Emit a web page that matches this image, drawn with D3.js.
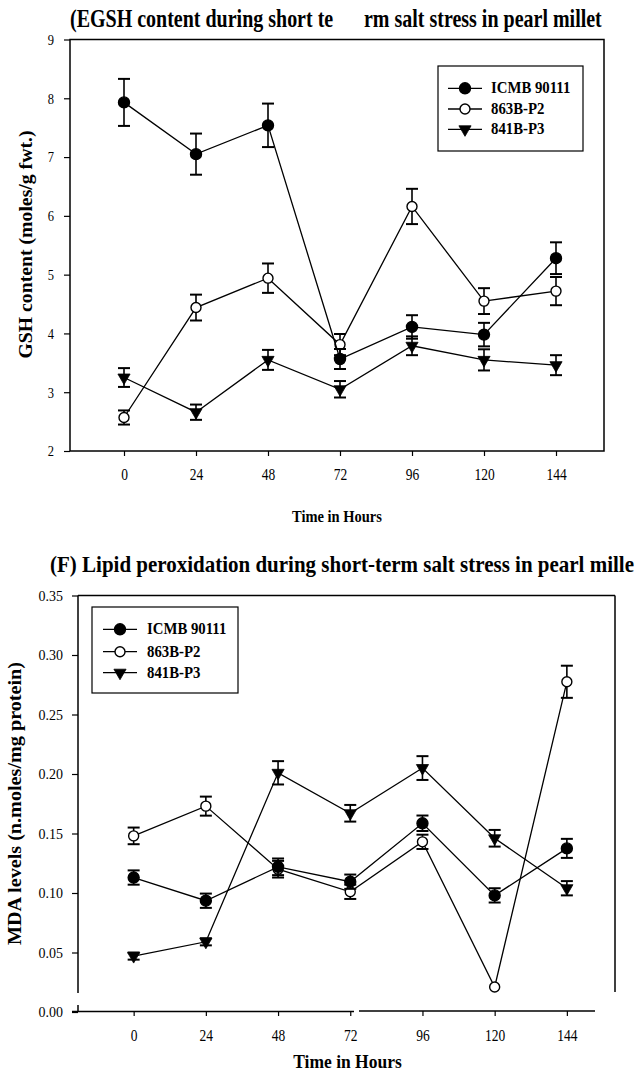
<!DOCTYPE html>
<html>
<head>
<meta charset="utf-8">
<script src="https://cdn.jsdelivr.net/npm/d3@7"></script>
<style>
  html, body { margin: 0; padding: 0; background: #fff; }
  svg { display: block; }
  text { font-family: "Liberation Serif", "Times New Roman", serif; fill: #000; white-space: pre; }
</style>
</head>
<body>
<script>
// ---- data ----
const hours = [0, 24, 48, 72, 96, 120, 144];
const seriesNames = ["ICMB 90111", "863B-P2", "841B-P3"];

// GSH content (moles/g fwt.)
const gshICMB    = [7.93, 7.05, 7.54, 3.565, 4.11, 3.98, 5.28];
const gshICMBErr = [0.40, 0.35, 0.37, 0.17, 0.20, 0.20, 0.27];
const gsh863     = [2.57, 4.44, 4.94, 3.81, 6.16, 4.55, 4.72];
const gsh863Err  = [0.12, 0.22, 0.25, 0.18, 0.30, 0.22, 0.24];
const gsh841     = [3.25, 2.66, 3.55, 3.05, 3.79, 3.55, 3.46];
const gsh841Err  = [0.16, 0.13, 0.17, 0.14, 0.16, 0.18, 0.17];

// MDA levels (n.moles/mg protein)
const mdaICMB    = [0.113, 0.0935, 0.122, 0.1095, 0.1586, 0.098, 0.1375];
const mdaICMBErr = [0.006, 0.006, 0.007, 0.006, 0.0065, 0.006, 0.008];
const mda863     = [0.148, 0.173, 0.120, 0.101, 0.143, 0.021, 0.2775];
const mda863Err  = [0.007, 0.008, 0.007, 0.006, 0.006, 0, 0.0135];
const mda841     = [0.047, 0.059, 0.201, 0.167, 0.205, 0.146, 0.104];
const mda841Err  = [0.003, 0.003, 0.0098, 0.007, 0.010, 0.007, 0.006];

const gshTicks = [2, 3, 4, 5, 6, 7, 8, 9];
const mdaTicks = [0, 0.05, 0.10, 0.15, 0.20, 0.25, 0.30, 0.35];
const hourTicks = [0, 24, 48, 72, 96, 120, 144];

const titleE = ["(EGSH content during short te", "rm salt stress in pearl millet"];
const titleF = "(F) Lipid peroxidation during short-term salt stress in pearl mille";
const xTitle = "Time in Hours";
const yTitleE = "GSH content (moles/g fwt.)";
const yTitleF = "MDA levels (n.moles/mg protein)";

// ---- drawing ----
const W = 636, H = 1080;
const svg = d3.select("body").append("svg").attr("width", W).attr("height", H);

const markerKinds = ["filled", "open", "tri"];

function stext(g, x, y, str, size, anchor, sy, bold) {
  return g.append("text")
    .attr("transform", `translate(${x},${y}) scale(1,${sy})`)
    .attr("text-anchor", anchor)
    .style("font-size", size + "px")
    .style("font-weight", bold ? "bold" : "normal")
    .text(str);
}

function drawMarker(g, kind, cx, cy) {
  if (kind === "tri") {
    g.append("path")
      .attr("d", d3.symbol().type(d3.symbolTriangle).size(64)())
      .attr("transform", `translate(${cx},${cy}) rotate(180)`)
      .attr("fill", "#000").attr("stroke", "#000").attr("stroke-width", 0.8);
  } else {
    g.append("circle").attr("cx", cx).attr("cy", cy)
      .attr("r", kind === "filled" ? 5.5 : 5)
      .attr("fill", kind === "filled" ? "#000" : "#fff")
      .attr("stroke", "#000").attr("stroke-width", 1.4);
  }
}

function drawSeries(g, x, y, vals, errs, kind) {
  const pts = hours.map((h, i) => ({ h, v: vals[i], e: errs[i] }));
  g.append("path")
    .datum(pts)
    .attr("d", d3.line().x(d => x(d.h)).y(d => y(d.v)))
    .attr("fill", "none").attr("stroke", "#000").attr("stroke-width", 1.3);
  pts.forEach(d => {
    if (d.e > 0) {
      const cx = x(d.h), y1 = y(d.v + d.e), y2 = y(d.v - d.e);
      g.append("line").attr("x1", cx).attr("x2", cx).attr("y1", y1).attr("y2", y2)
        .attr("stroke", "#000").attr("stroke-width", 1.6);
      [y1, y2].forEach(yy => g.append("line")
        .attr("x1", cx - 6).attr("x2", cx + 6).attr("y1", yy).attr("y2", yy)
        .attr("stroke", "#000").attr("stroke-width", 2));
    }
  });
  pts.forEach(d => drawMarker(g, kind, x(d.h), y(d.v)));
}

function drawLegend(g, bx, by, bw, bh, lx1, lx2, tx, rows) {
  g.append("rect").attr("x", bx).attr("y", by).attr("width", bw).attr("height", bh)
    .attr("fill", "#fff").attr("stroke", "#000").attr("stroke-width", 1.2);
  seriesNames.forEach((name, i) => {
    const yy = rows[i];
    g.append("line").attr("x1", lx1).attr("x2", lx2).attr("y1", yy).attr("y2", yy)
      .attr("stroke", "#000").attr("stroke-width", 1.3);
    drawMarker(g, markerKinds[i], (lx1 + lx2) / 2, yy);
    stext(g, tx, yy + 5, name, 14.8, "start", 1.13, true);
  });
}

// ===== Panel E: GSH content =====
{
  const g = svg.append("g");
  const x = d3.scaleLinear().domain([-18, 160]).range([70, 604]);
  const y = d3.scaleLinear().domain([2, 9]).range([451, 39.5]);

  stext(g, 70, 27, titleE[0], 20, "start", 1.26, true);
  stext(g, 364, 27, titleE[1], 20, "start", 1.26, true);

  // frame
  g.append("rect").attr("x", 70).attr("y", 39.5).attr("width", 534).attr("height", 411.5)
    .attr("fill", "none").attr("stroke", "#000").attr("stroke-width", 1.5);

  const ya = g.append("g").attr("transform", "translate(70,0)")
    .call(d3.axisLeft(y).tickValues(gshTicks).tickSize(6).tickSizeOuter(0).tickFormat(d3.format("d")));
  ya.select(".domain").remove();
  ya.selectAll(".tick line").attr("stroke", "#000").attr("stroke-width", 1.2);
  ya.selectAll(".tick text").attr("x", null).attr("dy", null).attr("font-family", null).attr("font-size", null)
    .attr("transform", "translate(-16,4.8) scale(1,1.25)").style("font-size", "12.5px");

  const xa = g.append("g").attr("transform", "translate(0,451)")
    .call(d3.axisBottom(x).tickValues(hourTicks).tickSize(5).tickSizeOuter(0));
  xa.select(".domain").remove();
  xa.selectAll(".tick line").attr("stroke", "#000").attr("stroke-width", 1.2);
  xa.selectAll(".tick text").attr("y", null).attr("dy", null).attr("font-family", null).attr("font-size", null)
    .attr("transform", "translate(0,29) scale(1,1.26)").style("font-size", "13.5px");

  stext(g, 337, 522, xTitle, 14.5, "middle", 1.2, true);
  g.append("text").attr("transform", "translate(32,244.5) rotate(-90)")
    .attr("text-anchor", "middle").style("font-size", "19px").style("font-weight", "bold")
    .attr("textLength", 228).attr("lengthAdjust", "spacingAndGlyphs").text(yTitleE);

  drawSeries(g, x, y, gsh841, gsh841Err, "tri");
  drawSeries(g, x, y, gsh863, gsh863Err, "open");
  drawSeries(g, x, y, gshICMB, gshICMBErr, "filled");

  drawLegend(g, 438, 66, 145, 85, 448, 482, 491, [88.3, 109, 129.3]);
}

// ===== Panel F: lipid peroxidation =====
{
  const g = svg.append("g");
  const x = d3.scaleLinear().domain([-18.5, 160]).range([78, 615]);
  const y = d3.scaleLinear().domain([0, 0.35]).range([1012, 595.5]);

  stext(g, 50, 571.7, titleF, 21, "start", 1.08, true);

  // broken frame
  const seg = (x1, y1, x2, y2) => g.append("line").attr("x1", x1).attr("y1", y1).attr("x2", x2).attr("y2", y2)
    .attr("stroke", "#000").attr("stroke-width", 1.5);
  seg(78, 595.5, 615, 595.5);
  seg(615, 595.5, 615, 992);
  seg(78, 595.5, 78, 993);
  seg(78, 1005, 78, 1012);
  seg(72, 1011.5, 354, 1011.5);
  seg(359, 1011, 595, 1011);

  const ya = g.append("g").attr("transform", "translate(78,0)")
    .call(d3.axisLeft(y).tickValues(mdaTicks).tickSize(6).tickSizeOuter(0).tickFormat(d3.format(".2f")));
  ya.select(".domain").remove();
  ya.selectAll(".tick line").attr("stroke", "#000").attr("stroke-width", 1.2);
  ya.selectAll(".tick text").attr("x", null).attr("dy", null).attr("font-family", null).attr("font-size", null)
    .attr("transform", "translate(-15,4.6) scale(1,1.05)").style("font-size", "14px");

  const xa = g.append("g").attr("transform", "translate(0,1011)")
    .call(d3.axisBottom(x).tickValues(hourTicks).tickSize(5).tickSizeOuter(0));
  xa.select(".domain").remove();
  xa.selectAll(".tick line").attr("stroke", "#000").attr("stroke-width", 1.2);
  xa.selectAll(".tick text").attr("y", null).attr("dy", null).attr("font-family", null).attr("font-size", null)
    .attr("transform", "translate(0,30) scale(1,1.26)").style("font-size", "13.5px");

  stext(g, 347.5, 1068, xTitle, 17.5, "middle", 1.05, true);
  g.append("text").attr("transform", "translate(21,803.5) rotate(-90)")
    .attr("text-anchor", "middle").style("font-size", "19px").style("font-weight", "bold")
    .attr("textLength", 283).attr("lengthAdjust", "spacingAndGlyphs").text(yTitleF);

  drawSeries(g, x, y, mda841, mda841Err, "tri");
  drawSeries(g, x, y, mda863, mda863Err, "open");
  drawSeries(g, x, y, mdaICMB, mdaICMBErr, "filled");

  drawLegend(g, 92, 607, 146, 86, 103, 137, 147, [629.3, 651.7, 672.7]);
}
</script>
</body>
</html>
